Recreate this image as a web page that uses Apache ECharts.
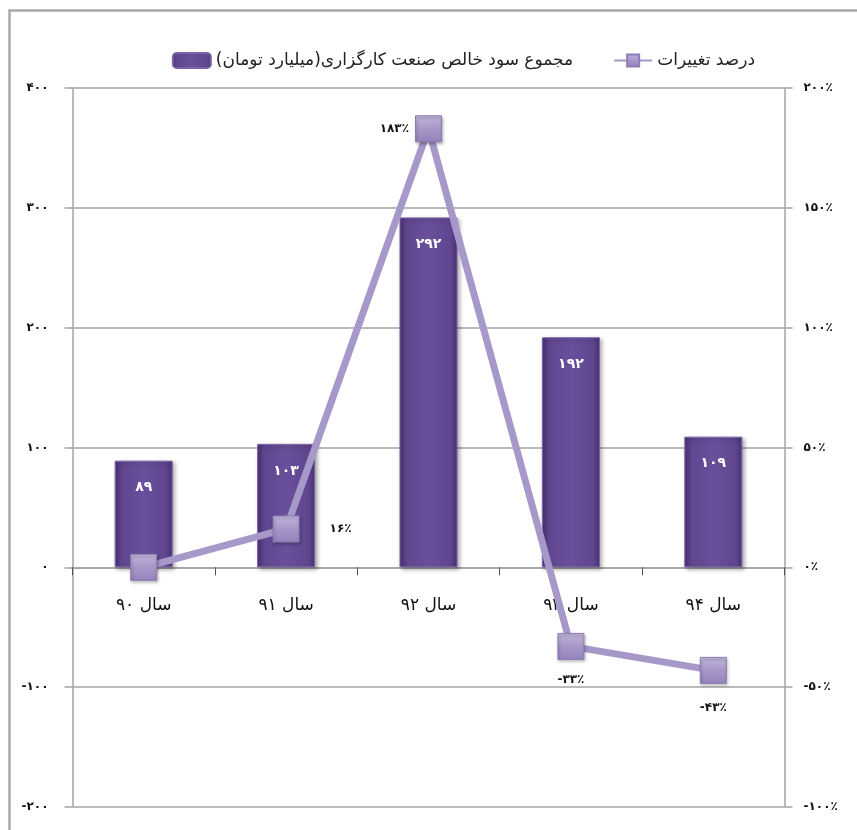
<!DOCTYPE html>
<html>
<head>
<meta charset="utf-8">
<script src="https://cdn.jsdelivr.net/npm/echarts@6/dist/echarts.min.js"></script>
<style>
html,body{margin:0;padding:0;background:#fff;}
#chart{width:857px;height:830px;}
</style>
</head>
<body>
<div id="chart"></div>
<script>
// ---- data ----
var categories = ['سال ۹۰', 'سال ۹۱', 'سال ۹۲', 'سال ۹۳', 'سال ۹۴'];
var profitValues = [89, 103, 292, 192, 109];
var changePercent = [0, 16, 183, -33, -43];
var seriesNames = ['مجموع سود خالص صنعت کارگزاری(میلیارد تومان)\u200F', 'درصد تغییرات'];
var leftTickValues = [-200, -100, 0, 100, 200, 300, 400];
var leftTickLabels = ['-۲۰۰', '-۱۰۰', '۰', '۱۰۰', '۲۰۰', '۳۰۰', '۴۰۰'];
var rightTickValues = [-100, -50, 0, 50, 100, 150, 200];
var rightTickLabels = ['-۱۰۰٪', '-۵۰٪', '۰٪', '۵۰٪', '۱۰۰٪', '۱۵۰٪', '۲۰۰٪'];

// ---- helpers / styles ----
function toFa(n) {
  var d = '۰۱۲۳۴۵۶۷۸۹';
  var s = String(Math.abs(n)).replace(/[0-9]/g, function (c) { return d[+c]; });
  return (n < 0 ? '-' : '') + s;
}
function tickLabel(values, labels) {
  return function (v) {
    for (var i = 0; i < values.length; i++) if (Math.abs(values[i] - v) < 1e-6) return labels[i];
    return '';
  };
}
var FONT = '"DejaVu Sans", sans-serif';
var GRAY = '#a3a3a3';
var GRID = { left: 72.5, right: 72.5, top: 88, bottom: 23 };
var H = 830;
// vertical distance from grid bottom to the zero line of the left axis
var zeroShift = (H - GRID.top - GRID.bottom) * (0 - leftTickValues[0]) /
  (leftTickValues[leftTickValues.length - 1] - leftTickValues[0]);

// per-point label placement for the line (style only)
var lineLabelStyles = [
  { show: false },
  { position: 'right', distance: 30 },
  { position: 'left', distance: 6 },
  { position: 'bottom', distance: 14 },
  { position: 'bottom', distance: 18 }
];
var lineData = changePercent.map(function (v, i) {
  return { value: v, label: lineLabelStyles[i] };
});

var barGradient = new echarts.graphic.LinearGradient(0, 0, 1, 0, [
  { offset: 0, color: '#4b3173' },
  { offset: 0.12, color: '#60458f' },
  { offset: 0.5, color: '#6a509c' },
  { offset: 0.88, color: '#60458f' },
  { offset: 1, color: '#4b3173' }
]);
var markerGradient = new echarts.graphic.LinearGradient(0, 0, 0, 1, [
  { offset: 0, color: '#c2b7dc' },
  { offset: 0.5, color: '#a797c9' },
  { offset: 1, color: '#9483bb' }
]);

var chart = echarts.init(document.getElementById('chart'), null, { renderer: 'canvas' });
chart.setOption({
  backgroundColor: '#ffffff',
  animation: false,
  textStyle: { fontFamily: FONT },
  graphic: [{
    type: 'rect',
    shape: { x: 9.5, y: 10.5, width: 870, height: 860 },
    style: { fill: 'none', stroke: '#a8a8a8', lineWidth: 2.5 },
    silent: true, z: -10
  }],
  legend: {
    right: 97,
    top: 47,
    itemGap: 40,
    itemWidth: 38,
    itemHeight: 15,
    textStyle: { fontFamily: FONT, fontSize: 17, color: '#222' },
    data: [seriesNames[0], seriesNames[1]]
  },
  grid: { left: GRID.left, right: GRID.right, top: GRID.top, bottom: GRID.bottom,
    containLabel: false, outerBoundsMode: 'none' },
  xAxis: {
    type: 'category',
    data: categories,
    boundaryGap: true,
    position: 'bottom',
    offset: -zeroShift,
    axisLine: { onZero: false, lineStyle: { color: GRAY, width: 1.5 } },
    axisTick: { show: true, alignWithLabel: false, length: 8, lineStyle: { color: '#555', width: 1 } },
    axisLabel: { margin: 30, fontSize: 17, color: '#111', fontFamily: FONT }
  },
  yAxis: [{
    type: 'value',
    min: -200, max: 400, interval: 100,
    axisLine: { show: true, lineStyle: { color: GRAY, width: 1.5 } },
    axisTick: { show: true, length: 8, lineStyle: { color: GRAY, width: 1.5 } },
    splitLine: { show: true, lineStyle: { color: GRAY, width: 1.5 } },
    axisLabel: { margin: 24, fontSize: 12, fontWeight: 'bold', color: '#111', fontFamily: FONT,
      formatter: tickLabel(leftTickValues, leftTickLabels) }
  }, {
    type: 'value',
    min: -100, max: 200, interval: 50,
    axisLine: { show: true, lineStyle: { color: GRAY, width: 1.5 } },
    axisTick: { show: true, length: 8, lineStyle: { color: GRAY, width: 1.5 } },
    splitLine: { show: false },
    axisLabel: { margin: 19, fontSize: 12, fontWeight: 'bold', color: '#111', fontFamily: FONT,
      formatter: tickLabel(rightTickValues, rightTickLabels) }
  }],
  series: [{
    name: seriesNames[0],
    type: 'bar',
    yAxisIndex: 0,
    barWidth: 58,
    data: profitValues,
    itemStyle: {
      color: barGradient,
      borderColor: '#7a63a8',
      borderWidth: 1,
      shadowColor: 'rgba(0,0,0,0.35)',
      shadowBlur: 4,
      shadowOffsetX: 2,
      shadowOffsetY: 2
    },
    label: {
      show: true,
      position: 'insideTop',
      distance: 20,
      color: '#ffffff',
      fontSize: 14,
      fontWeight: 'bold',
      fontFamily: FONT,
      formatter: function (p) { return toFa(p.value); }
    }
  }, {
    name: seriesNames[1],
    type: 'line',
    yAxisIndex: 1,
    data: lineData,
    symbol: 'rect',
    symbolSize: 26,
    lineStyle: { color: '#a698c8', width: 7 },
    itemStyle: {
      color: markerGradient,
      borderColor: '#8e7db5',
      borderWidth: 1,
      shadowColor: 'rgba(0,0,0,0.3)',
      shadowBlur: 3,
      shadowOffsetX: 1,
      shadowOffsetY: 2
    },
    label: {
      show: true,
      color: '#111',
      fontSize: 12,
      fontWeight: 'bold',
      fontFamily: FONT,
      formatter: function (p) { return toFa(p.value) + '٪'; }
    },
    z: 5
  }]
});
</script>
</body>
</html>
